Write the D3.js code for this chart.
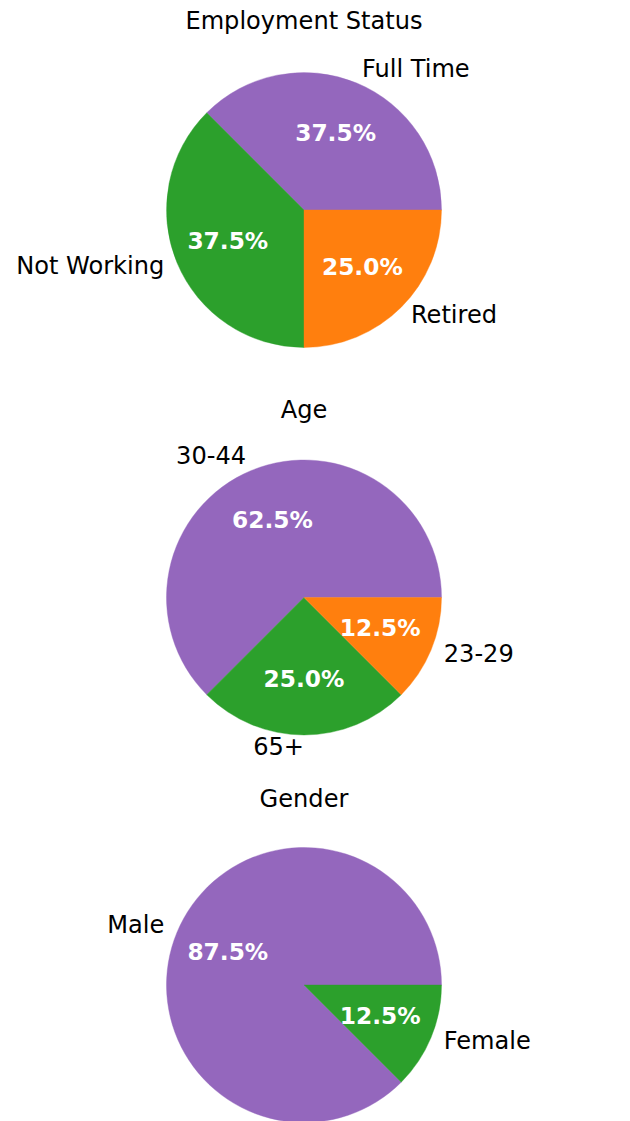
<!DOCTYPE html>
<html>
<head>
<meta charset="utf-8">
<script src="https://cdn.jsdelivr.net/npm/d3@7"></script>
<style>
  html, body { margin: 0; padding: 0; background: #fff; }
  svg { display: block; }
  text { font-family: "DejaVu Sans", sans-serif; }
</style>
</head>
<body>
<svg id="chart" width="630" height="1121"></svg>
<script>
// ---- Data ----
const titles = ["Employment Status", "Age", "Gender"];
const employmentLabels = ["Full Time", "Not Working", "Retired"];
const employmentValues = [3, 3, 2];
const ageLabels = ["30-44", "65+", "23-29"];
const ageValues = [5, 2, 1];
const genderLabels = ["Male", "Female"];
const genderValues = [7, 1];
const sliceColors = ["#9467bd", "#2ca02c", "#ff7f0e"];

const charts = [
  { title: titles[0], labels: employmentLabels, values: employmentValues },
  { title: titles[1], labels: ageLabels, values: ageValues },
  { title: titles[2], labels: genderLabels, values: genderValues }
];

// ---- Layout ----
const svg = d3.select("#chart");
const cx = 304;
const r = 137.5;
const fontSize = 24.1;
const pctFontSize = 23.3;
const centerY = i => 210 + i * 387.5;
const titleBaseline = i => 29 + i * 388.75;

// matplotlib: start at 3 o'clock, counter-clockwise
const pie = d3.pie().sort(null).value(d => d.value)
  .startAngle(Math.PI / 2).endAngle(Math.PI / 2 - 2 * Math.PI);
const arc = d3.arc().innerRadius(0).outerRadius(r);
const labelArc = d3.arc().innerRadius(r * 1.1).outerRadius(r * 1.1);
const pctArc = d3.arc().innerRadius(r * 0.6).outerRadius(r * 0.6);

charts.forEach((c, i) => {
  const data = c.labels.map((l, j) => ({ label: l, value: c.values[j], color: sliceColors[j] }));
  const total = d3.sum(c.values);
  const arcs = pie(data);
  const g = svg.append("g").attr("transform", `translate(${cx},${centerY(i)})`);

  svg.append("text")
    .attr("x", cx).attr("y", titleBaseline(i))
    .attr("text-anchor", "middle")
    .attr("font-size", fontSize)
    .attr("fill", "#000")
    .text(c.title);

  g.selectAll("path").data(arcs).enter().append("path")
    .attr("d", arc)
    .attr("fill", d => d.data.color)
    .attr("stroke", d => d.data.color)
    .attr("stroke-width", 0.4);

  g.selectAll("text.lbl").data(arcs).enter().append("text")
    .attr("class", "lbl")
    .each(function(d) {
      const [x, y] = labelArc.centroid(d);
      d3.select(this).attr("x", x).attr("y", y)
        .attr("text-anchor", x > 0 ? "start" : "end");
    })
    .attr("dy", "0.262em")
    .attr("font-size", fontSize)
    .attr("fill", "#000")
    .text(d => d.data.label);

  g.selectAll("text.pct").data(arcs).enter().append("text")
    .attr("class", "pct")
    .attr("x", d => pctArc.centroid(d)[0])
    .attr("y", d => pctArc.centroid(d)[1])
    .attr("dy", "0.3em")
    .attr("text-anchor", "middle")
    .attr("font-size", pctFontSize)
    .attr("font-weight", "bold")
    .attr("fill", "#fff")
    .text(d => d3.format(".1f")(d.data.value / total * 100) + "%");
});
</script>
</body>
</html>
